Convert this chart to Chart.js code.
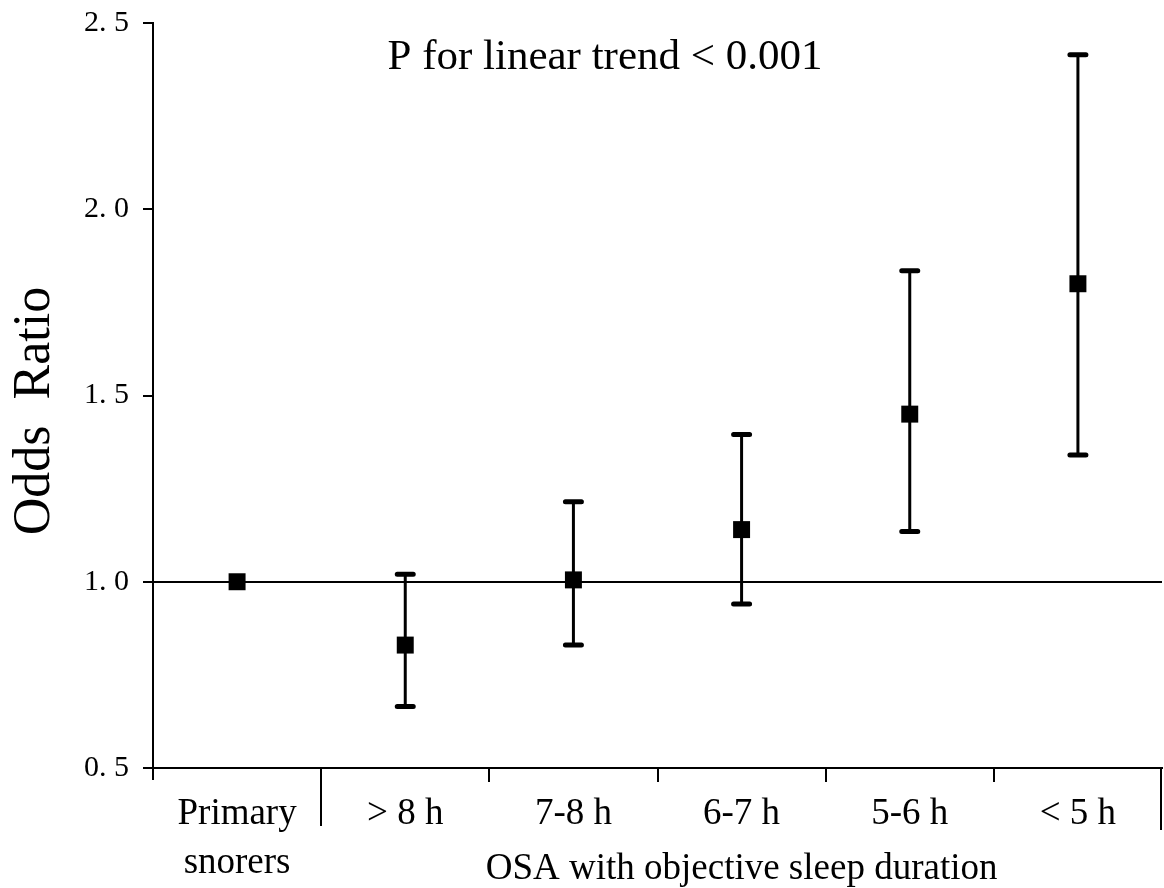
<!DOCTYPE html>
<html>
<head>
<meta charset="utf-8">
<script src="https://cdn.jsdelivr.net/npm/chart.js@4/dist/chart.umd.min.js"></script>
<style>
  body { margin: 0; background: #fff; overflow: hidden; }
  canvas { display: block; }
</style>
</head>
<body>
<canvas id="chart" width="1164" height="888"></canvas>
<script>
const categories = [['Primary', 'snorers'], '> 8 h', '7-8 h', '6-7 h', '5-6 h', '< 5 h'];
const oddsRatio = [1.00, 0.83, 1.005, 1.14, 1.45, 1.80];
const lowerCI = [null, 0.665, 0.83, 0.94, 1.135, 1.34];
const upperCI = [null, 1.02, 1.215, 1.395, 1.835, 2.415];
const yTicks = [0.5, 1.0, 1.5, 2.0, 2.5];
const yTitle = 'Odds  Ratio';
const trendText = 'P for linear trend < 0.001';
const groupLabel = 'OSA with objective sleep duration';

const serif = '"Liberation Serif", "Times New Roman", serif';

// error bars under the squares
const errorBars = {
    id: 'errorBars',
    beforeDatasetsDraw(chart) {
        const x = chart.scales.x;
        const y = chart.scales.y;
        const ctx = chart.ctx;
        ctx.save();
        ctx.strokeStyle = '#000';
        for (let i = 0; i < categories.length; i++) {
            if (lowerCI[i] == null) continue;
            const px = x.getPixelForValue(i);
            const lo = y.getPixelForValue(lowerCI[i]);
            const hi = y.getPixelForValue(upperCI[i]);
            ctx.lineWidth = 3;
            ctx.lineCap = 'butt';
            ctx.beginPath();
            ctx.moveTo(px, lo);
            ctx.lineTo(px, hi);
            ctx.stroke();
            ctx.lineWidth = 5;
            ctx.lineCap = 'round';
            ctx.beginPath();
            ctx.moveTo(px - 8, lo);
            ctx.lineTo(px + 8, lo);
            ctx.moveTo(px - 8, hi);
            ctx.lineTo(px + 8, hi);
            ctx.stroke();
        }
        ctx.restore();
    }
};

// separators under the x axis, texts
const extras = {
    id: 'extras',
    afterDraw(chart) {
        const x = chart.scales.x;
        const area = chart.chartArea;
        const ctx = chart.ctx;
        ctx.save();
        ctx.strokeStyle = '#000';
        ctx.lineWidth = 2;
        const seps = [[-0.5, 12], [0.5, 58], [1.5, 14], [2.5, 14], [3.5, 14], [4.5, 14], [5.5, 62]];
        seps.forEach(([v, len]) => {
            const px = Math.round(x.getPixelForValue(v)) - (v === 5.5 ? 1 : 0);
            ctx.beginPath();
            ctx.moveTo(px, area.bottom);
            ctx.lineTo(px, area.bottom + len);
            ctx.stroke();
        });

        ctx.fillStyle = '#000';
        ctx.textAlign = 'center';
        ctx.textBaseline = 'alphabetic';
        ctx.font = '43px ' + serif;
        ctx.fillText(trendText, 605, 69);

        ctx.font = '37px ' + serif;
        const mid = (x.getPixelForValue(0.5) + x.getPixelForValue(5.5)) / 2;
        ctx.fillText(groupLabel, mid, area.bottom + 111);

        ctx.translate(35, 411);
        ctx.rotate(-Math.PI / 2);
        ctx.textBaseline = 'middle';
        ctx.font = '52px ' + serif;
        ctx.fillText(yTitle, 0, 0);
        ctx.restore();
    }
};

new Chart(document.getElementById('chart'), {
    type: 'line',
    data: {
        labels: categories,
        datasets: [{
            data: oddsRatio,
            showLine: false,
            pointStyle: 'rect',
            pointRadius: 12,
            pointHoverRadius: 12,
            backgroundColor: '#000',
            borderColor: '#000',
            borderWidth: 0
        }]
    },
    options: {
        responsive: false,
        animation: false,
        layout: { autoPadding: false, padding: { top: 23, right: 2, left: 0, bottom: 0 } },
        plugins: {
            legend: { display: false },
            tooltip: { enabled: false }
        },
        scales: {
            x: {
                type: 'category',
                offset: true,
                grid: { display: false, drawTicks: false },
                border: { display: true, color: '#000', width: 2 },
                ticks: {
                    color: '#000',
                    font: { family: serif, size: 37, lineHeight: 1.32 },
                    padding: 22,
                    maxRotation: 0,
                    autoSkip: false
                },
                afterFit(scale) { scale.height = 120; }
            },
            y: {
                min: 0.5,
                max: 2.5,
                afterBuildTicks(scale) { scale.ticks = yTicks.map(v => ({ value: v })); },
                grid: {
                    drawOnChartArea: true,
                    color: ctx => (ctx.tick && ctx.tick.value === 1 ? '#000' : 'rgba(0,0,0,0)'),
                    tickColor: '#000',
                    tickLength: 10,
                    lineWidth: 2
                },
                border: { display: true, color: '#000', width: 2 },
                ticks: {
                    color: '#000',
                    font: { family: serif, size: 30, lineHeight: 0.5 },
                    padding: 14,
                    callback: v => v.toFixed(1).replace('.', '. ')
                },
                afterFit(scale) { scale.width = 153; }
            }
        }
    },
    plugins: [errorBars, extras]
});
</script>
</body>
</html>
